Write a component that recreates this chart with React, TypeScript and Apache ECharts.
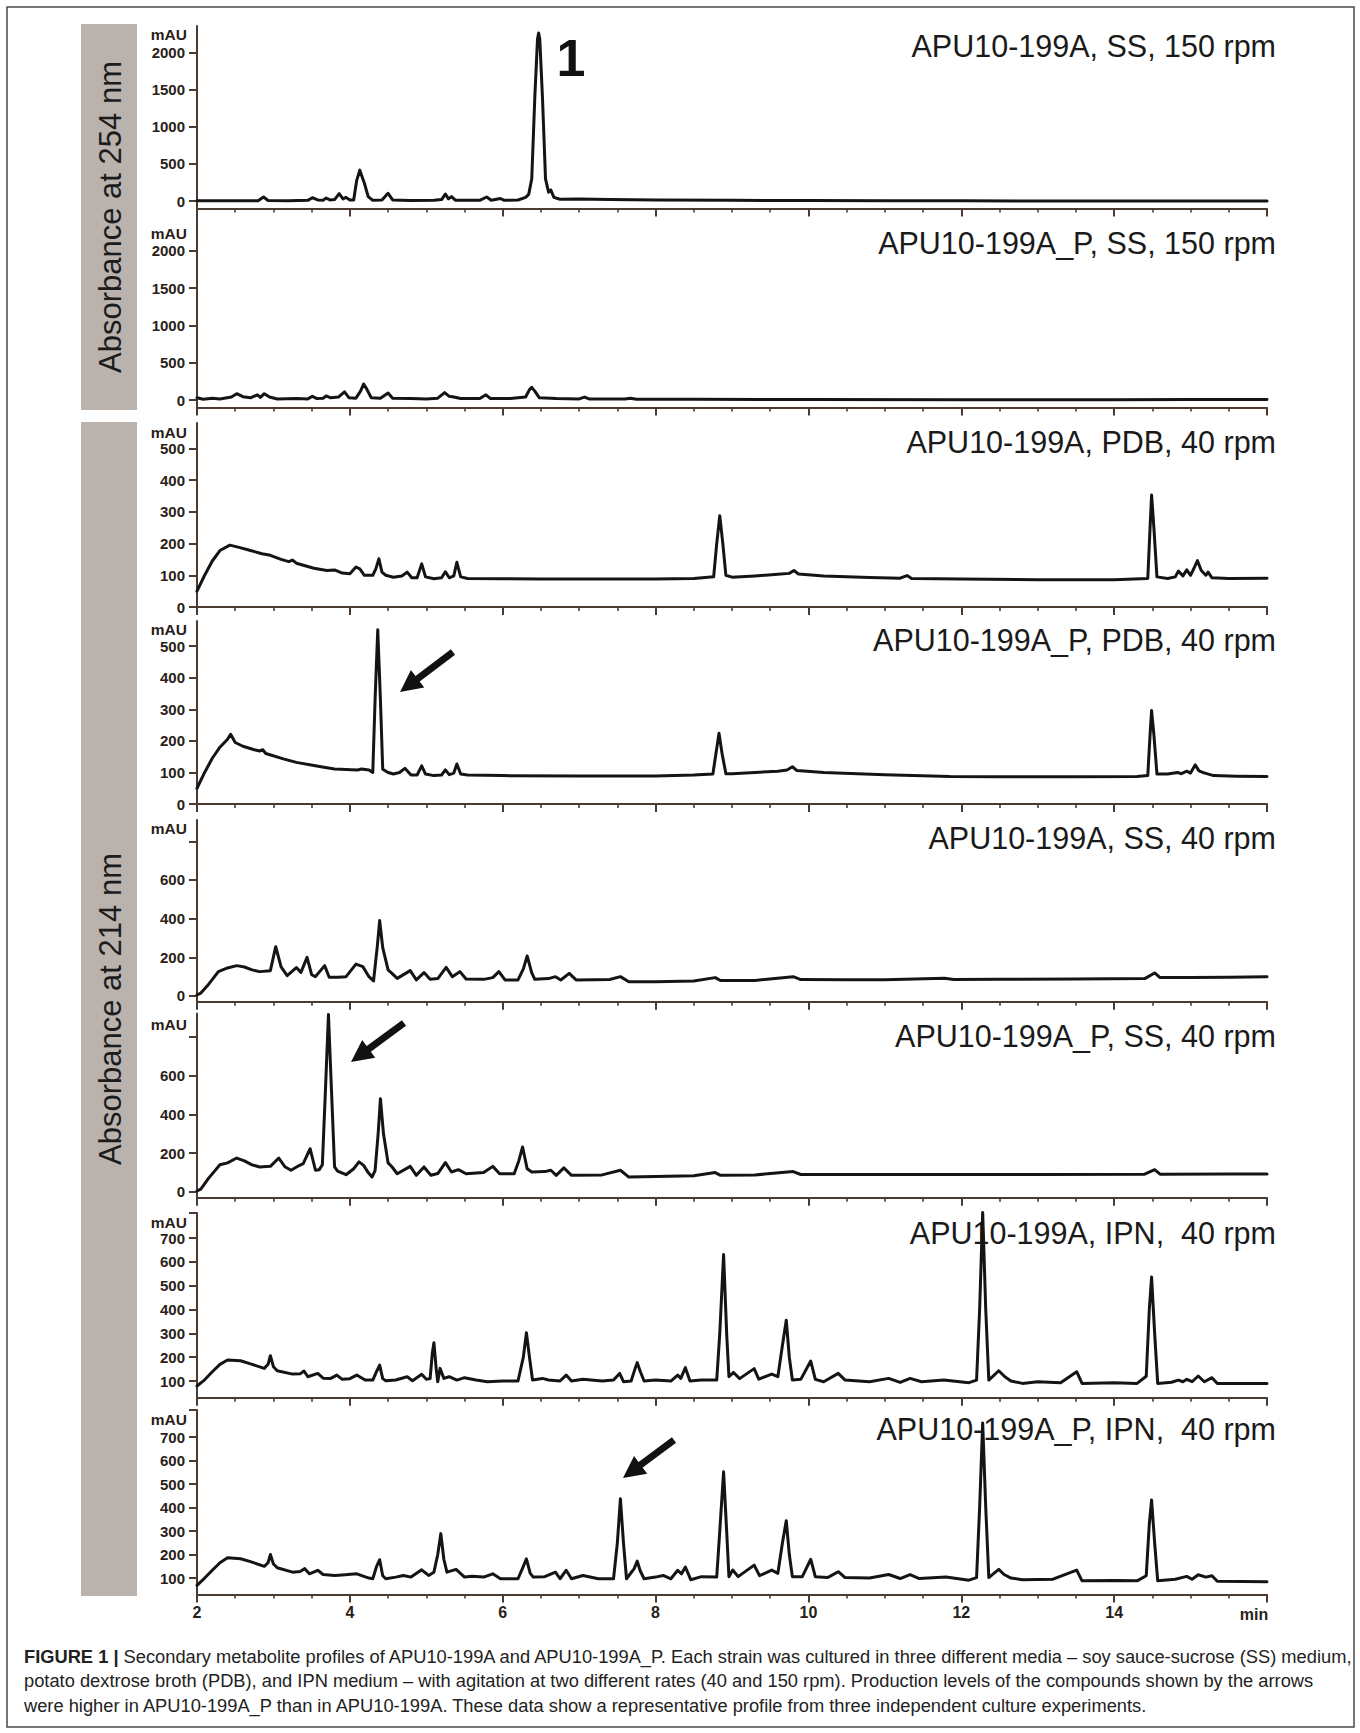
import React, { useEffect, useRef } from 'react';
import * as echarts from 'echarts';

// ---------------- DATA ----------------
const X_MIN = 2;
const X_MAX = 16;
const X_STEP = 2;

// Absorbance at 254 nm
const ss150A: number[][] = [
  [2.0, 5], [2.5, 3], [2.8, 5], [2.87, 55], [2.93, 8], [3.2, 5], [3.45, 10], [3.51, 45], [3.58, 15], [3.65, 12],
  [3.69, 40], [3.74, 15], [3.8, 20], [3.86, 100], [3.91, 30], [3.95, 50], [4.0, 15], [4.05, 15], [4.09, 280],
  [4.13, 417], [4.19, 240], [4.24, 60], [4.3, 10], [4.42, 15], [4.5, 105], [4.56, 15], [4.8, 8], [5.1, 10],
  [5.2, 20], [5.25, 95], [5.29, 30], [5.33, 60], [5.38, 12], [5.7, 10], [5.79, 55], [5.85, 12], [5.97, 35],
  [6.02, 10], [6.2, 15], [6.3, 50], [6.34, 90], [6.38, 300], [6.42, 1400], [6.455, 2180], [6.47, 2265],
  [6.485, 2180], [6.52, 1400], [6.56, 300], [6.6, 120], [6.63, 150], [6.67, 50], [6.75, 25], [7.0, 28],
  [7.4, 20], [8.0, 15], [9.0, 10], [10.0, 8], [11.0, 5], [12.0, 3], [13.0, 2], [14.0, 0], [15.0, 0], [16.0, 0],
];
const ss150P: number[][] = [
  [2.0, 30], [2.08, 10], [2.2, 25], [2.3, 15], [2.45, 40], [2.52, 85], [2.6, 45], [2.7, 30], [2.79, 70],
  [2.83, 35], [2.88, 85], [2.95, 40], [3.05, 15], [3.3, 20], [3.45, 15], [3.51, 50], [3.57, 20], [3.65, 25],
  [3.69, 55], [3.75, 30], [3.85, 40], [3.93, 110], [3.99, 30], [4.08, 25], [4.14, 120], [4.18, 215],
  [4.22, 150], [4.28, 30], [4.4, 25], [4.5, 95], [4.56, 25], [4.8, 20], [5.0, 15], [5.15, 25], [5.24, 100],
  [5.3, 50], [5.36, 40], [5.45, 20], [5.7, 20], [5.78, 70], [5.84, 20], [6.1, 20], [6.3, 40], [6.35, 140],
  [6.38, 170], [6.42, 120], [6.48, 30], [6.7, 20], [7.0, 15], [7.07, 40], [7.13, 15], [7.6, 15], [7.67, 25],
  [7.75, 10], [8.5, 10], [10.0, 8], [12.0, 5], [14.0, 5], [15.0, 6], [16.0, 8],
];

// Absorbance at 214 nm
const pdb40A: number[][] = [
  [2.0, 50], [2.1, 100], [2.2, 145], [2.3, 178], [2.43, 195], [2.55, 188], [2.7, 178], [2.85, 168],
  [2.96, 163], [3.1, 150], [3.2, 143], [3.25, 148], [3.3, 138], [3.53, 122], [3.7, 115], [3.8, 117],
  [3.9, 107], [4.0, 105], [4.08, 126], [4.13, 120], [4.19, 100], [4.3, 100], [4.34, 120], [4.38, 152],
  [4.42, 110], [4.47, 100], [4.57, 94], [4.68, 98], [4.75, 110], [4.81, 92], [4.88, 92], [4.94, 136],
  [4.99, 95], [5.1, 89], [5.2, 92], [5.25, 111], [5.3, 92], [5.36, 98], [5.4, 141], [5.45, 95], [5.54, 90],
  [6.0, 89], [6.5, 88], [7.0, 88], [7.5, 88], [8.0, 88], [8.5, 90], [8.76, 95], [8.8, 200], [8.84, 288],
  [8.88, 200], [8.92, 100], [9.0, 94], [9.3, 98], [9.6, 103], [9.75, 106], [9.81, 115], [9.87, 104],
  [10.2, 98], [10.8, 93], [11.2, 91], [11.29, 99], [11.35, 90], [12.0, 88], [13.0, 86], [14.0, 86],
  [14.44, 90], [14.47, 250], [14.49, 353], [14.52, 250], [14.56, 95], [14.7, 90], [14.8, 95], [14.84, 113],
  [14.9, 98], [14.95, 117], [15.0, 100], [15.05, 125], [15.09, 146], [15.14, 115], [15.2, 100],
  [15.23, 110], [15.28, 92], [15.5, 90], [16.0, 91],
];
const pdb40P: number[][] = [
  [2.0, 50], [2.1, 100], [2.2, 145], [2.3, 180], [2.4, 205], [2.44, 221], [2.5, 195], [2.6, 183],
  [2.75, 172], [2.82, 168], [2.86, 172], [2.9, 160], [3.13, 143], [3.3, 132], [3.53, 122], [3.7, 115],
  [3.8, 111], [4.1, 108], [4.15, 111], [4.25, 108], [4.3, 100], [4.33, 330], [4.365, 552], [4.4, 330],
  [4.43, 110], [4.5, 100], [4.57, 95], [4.65, 100], [4.72, 113], [4.8, 92], [4.88, 92], [4.94, 121],
  [4.99, 95], [5.1, 90], [5.2, 92], [5.25, 108], [5.3, 93], [5.36, 98], [5.4, 127], [5.45, 95], [5.54, 92],
  [6.0, 90], [7.0, 89], [8.0, 89], [8.5, 92], [8.75, 95], [8.79, 160], [8.83, 224], [8.87, 160],
  [8.92, 96], [9.0, 96], [9.3, 100], [9.6, 104], [9.72, 108], [9.79, 118], [9.85, 106], [10.2, 100],
  [11.0, 93], [11.85, 87], [12.5, 86], [13.5, 86], [14.3, 87], [14.44, 90], [14.47, 220], [14.49, 296],
  [14.52, 220], [14.56, 95], [14.7, 95], [14.83, 100], [14.88, 96], [14.95, 104], [15.0, 98], [15.06, 124],
  [15.11, 105], [15.16, 100], [15.2, 97], [15.3, 90], [15.6, 88], [16.0, 87],
];
const ss40A: number[][] = [
  [2.0, 5], [2.05, 15], [2.15, 60], [2.28, 126], [2.4, 145], [2.52, 157], [2.62, 150], [2.72, 135],
  [2.82, 126], [2.96, 131], [3.03, 255], [3.1, 150], [3.18, 105], [3.3, 147], [3.36, 122], [3.44, 200],
  [3.5, 110], [3.55, 100], [3.67, 157], [3.73, 97], [3.85, 97], [3.95, 100], [4.08, 165], [4.17, 152],
  [4.25, 100], [4.31, 78], [4.36, 260], [4.39, 390], [4.43, 250], [4.5, 135], [4.54, 121], [4.62, 91],
  [4.79, 131], [4.87, 83], [4.97, 121], [5.05, 86], [5.15, 90], [5.26, 148], [5.34, 100], [5.44, 126],
  [5.52, 88], [5.75, 86], [5.87, 95], [5.95, 126], [6.03, 83], [6.2, 83], [6.27, 140], [6.32, 207],
  [6.38, 120], [6.42, 86], [6.6, 90], [6.69, 100], [6.76, 83], [6.87, 117], [6.96, 83], [7.4, 85],
  [7.54, 100], [7.65, 74], [8.0, 74], [8.5, 78], [8.78, 95], [8.85, 80], [9.3, 80], [9.8, 100], [9.9, 85],
  [10.5, 84], [11.0, 84], [11.78, 92], [11.9, 85], [12.5, 86], [13.5, 88], [14.4, 90], [14.53, 119],
  [14.6, 95], [15.0, 95], [15.5, 97], [16.0, 100],
];
const ss40P: number[][] = [
  [2.0, 5], [2.05, 15], [2.15, 70], [2.3, 140], [2.4, 150], [2.52, 175], [2.62, 160], [2.72, 140],
  [2.82, 129], [2.96, 132], [3.07, 175], [3.15, 130], [3.23, 112], [3.33, 135], [3.39, 146], [3.48, 223],
  [3.55, 112], [3.6, 115], [3.64, 140], [3.68, 520], [3.72, 915], [3.76, 520], [3.8, 130], [3.84, 108],
  [3.95, 89], [4.05, 120], [4.12, 155], [4.18, 137], [4.24, 100], [4.29, 77], [4.33, 110], [4.37, 300],
  [4.4, 481], [4.44, 300], [4.5, 150], [4.55, 130], [4.62, 94], [4.79, 132], [4.87, 86], [4.97, 129],
  [5.06, 86], [5.15, 95], [5.25, 151], [5.33, 103], [5.42, 115], [5.52, 94], [5.75, 100], [5.87, 132],
  [5.96, 94], [6.15, 94], [6.21, 160], [6.26, 232], [6.32, 120], [6.38, 103], [6.55, 105], [6.63, 112],
  [6.7, 86], [6.8, 124], [6.9, 86], [7.3, 88], [7.54, 112], [7.65, 77], [8.0, 80], [8.5, 84], [8.78, 100],
  [8.85, 86], [9.3, 88], [9.8, 105], [9.9, 90], [11.0, 90], [12.0, 90], [13.0, 90], [14.4, 92], [14.53, 115],
  [14.6, 92], [15.5, 93], [16.0, 93],
];
const ipn40A: number[][] = [
  [2.0, 79], [2.1, 105], [2.2, 139], [2.3, 170], [2.4, 188], [2.57, 185], [2.7, 172], [2.88, 153],
  [2.93, 170], [2.96, 206], [3.0, 160], [3.05, 143], [3.25, 129], [3.35, 130], [3.4, 142], [3.45, 118],
  [3.58, 132], [3.65, 112], [3.75, 111], [3.83, 125], [3.9, 107], [4.0, 110], [4.09, 125], [4.2, 104],
  [4.3, 104], [4.35, 140], [4.39, 167], [4.43, 110], [4.47, 101], [4.6, 104], [4.75, 118], [4.82, 101],
  [4.94, 128], [5.0, 107], [5.05, 110], [5.08, 220], [5.1, 261], [5.13, 150], [5.15, 97], [5.18, 153],
  [5.23, 111], [5.3, 118], [5.4, 104], [5.5, 114], [5.65, 104], [5.8, 97], [6.0, 100], [6.2, 100],
  [6.27, 200], [6.31, 303], [6.35, 200], [6.39, 104], [6.52, 111], [6.6, 104], [6.75, 100], [6.83, 125],
  [6.9, 100], [7.05, 107], [7.3, 100], [7.45, 104], [7.53, 132], [7.58, 97], [7.68, 100], [7.73, 150],
  [7.76, 177], [7.8, 140], [7.85, 100], [8.0, 104], [8.2, 100], [8.29, 125], [8.33, 111], [8.39, 156],
  [8.45, 100], [8.6, 104], [8.8, 104], [8.84, 300], [8.89, 631], [8.93, 300], [8.96, 118], [9.02, 136],
  [9.1, 110], [9.29, 152], [9.35, 108], [9.52, 129], [9.6, 118], [9.66, 250], [9.71, 355], [9.75, 200],
  [9.79, 104], [9.9, 107], [10.03, 184], [10.09, 107], [10.2, 97], [10.39, 132], [10.48, 104], [10.8, 97],
  [11.05, 111], [11.2, 94], [11.33, 111], [11.48, 97], [11.77, 104], [12.1, 93], [12.2, 104], [12.24, 400],
  [12.28, 807], [12.32, 400], [12.36, 104], [12.49, 143], [12.57, 118], [12.65, 100], [12.8, 90],
  [13.0, 97], [13.3, 93], [13.51, 139], [13.58, 90], [14.0, 93], [14.3, 90], [14.42, 120], [14.46, 400],
  [14.49, 536], [14.53, 300], [14.57, 90], [14.75, 95], [14.84, 104], [14.9, 97], [14.95, 107], [15.02, 97],
  [15.1, 121], [15.18, 97], [15.28, 114], [15.35, 90], [16.0, 90],
];
const ipn40P: number[][] = [
  [2.0, 69], [2.1, 100], [2.2, 133], [2.3, 165], [2.4, 186], [2.57, 182], [2.7, 170], [2.88, 150],
  [2.93, 165], [2.96, 200], [3.0, 160], [3.05, 144], [3.25, 125], [3.35, 128], [3.41, 140], [3.47, 118],
  [3.58, 133], [3.65, 115], [3.8, 111], [3.9, 113], [4.09, 118], [4.25, 100], [4.3, 97], [4.35, 150],
  [4.39, 178], [4.43, 110], [4.47, 97], [4.6, 104], [4.7, 111], [4.8, 104], [4.94, 135], [5.03, 111],
  [5.1, 125], [5.15, 200], [5.19, 289], [5.23, 180], [5.27, 125], [5.39, 137], [5.5, 104], [5.6, 108],
  [5.75, 104], [5.87, 118], [5.97, 97], [6.2, 97], [6.27, 150], [6.31, 182], [6.36, 120], [6.4, 104],
  [6.55, 106], [6.69, 125], [6.75, 97], [6.83, 133], [6.9, 97], [7.05, 111], [7.25, 97], [7.45, 97],
  [7.5, 250], [7.54, 437], [7.58, 250], [7.62, 97], [7.72, 140], [7.76, 172], [7.8, 130], [7.85, 97],
  [8.0, 104], [8.1, 111], [8.2, 97], [8.29, 133], [8.34, 118], [8.39, 147], [8.46, 93], [8.6, 106],
  [8.8, 104], [8.84, 300], [8.89, 552], [8.93, 300], [8.96, 106], [9.01, 134], [9.08, 106], [9.29, 155],
  [9.36, 110], [9.52, 134], [9.6, 120], [9.66, 250], [9.71, 344], [9.75, 200], [9.79, 106], [9.92, 106],
  [10.03, 180], [10.09, 106], [10.25, 102], [10.39, 127], [10.48, 102], [10.8, 100], [11.05, 115],
  [11.2, 98], [11.33, 115], [11.45, 98], [11.8, 104], [12.1, 91], [12.2, 102], [12.24, 400], [12.28, 760],
  [12.32, 400], [12.36, 102], [12.49, 137], [12.56, 115], [12.65, 100], [12.8, 93], [13.2, 95],
  [13.51, 134], [13.58, 88], [14.0, 90], [14.3, 88], [14.42, 110], [14.46, 330], [14.49, 432], [14.53, 250],
  [14.57, 88], [14.8, 95], [14.95, 107], [15.02, 95], [15.1, 114], [15.2, 104], [15.28, 110], [15.35, 86],
  [16.0, 84],
];

const PANEL_DATA = [ss150A, ss150P, pdb40A, pdb40P, ss40A, ss40P, ipn40A, ipn40P];

const PANEL_TITLES = [
  'APU10-199A, SS, 150 rpm',
  'APU10-199A_P, SS, 150 rpm',
  'APU10-199A, PDB, 40 rpm',
  'APU10-199A_P, PDB, 40 rpm',
  'APU10-199A, SS, 40 rpm',
  'APU10-199A_P, SS, 40 rpm',
  'APU10-199A, IPN,  40 rpm',
  'APU10-199A_P, IPN,  40 rpm',
];

const Y_MIN = [-100, -100, 0, 0, -30, -30, 30, 30];
const Y_MAX = [2360, 2460, 580, 580, 910, 920, 805, 815];
const Y_LABELS_254 = [0, 500, 1000, 1500, 2000];
const Y_LABELS_PDB = [0, 100, 200, 300, 400, 500];
const Y_LABELS_SS = [0, 200, 400, 600];
const Y_TICKS_SS = [0, 200, 400, 600, 800];
const Y_LABELS_IPN = [100, 200, 300, 400, 500, 600, 700];
const Y_LABEL_VALUES = [Y_LABELS_254, Y_LABELS_254, Y_LABELS_PDB, Y_LABELS_PDB, Y_LABELS_SS, Y_LABELS_SS, Y_LABELS_IPN, Y_LABELS_IPN];
const Y_TICK_VALUES = [Y_LABELS_254, Y_LABELS_254, Y_LABELS_PDB, Y_LABELS_PDB, Y_TICKS_SS, Y_TICKS_SS,
  [...Y_LABELS_IPN, 805], [...Y_LABELS_IPN, 815]];
const Y_UNIT = 'mAU';
const X_END_LABEL = 'min';

const BAND_LABELS = ['Absorbance at 254 nm', 'Absorbance at 214 nm'];
const PEAK_LABEL = '1';
const CAPTION_LINES = [
  '{b|FIGURE 1 |} Secondary metabolite profiles of APU10-199A and APU10-199A_P. Each strain was cultured in three different media – soy sauce-sucrose (SS) medium,',
  'potato dextrose broth (PDB), and IPN medium – with agitation at two different rates (40 and 150 rpm). Production levels of the compounds shown by the arrows',
  'were higher in APU10-199A_P than in APU10-199A. These data show a representative profile from three independent culture experiments.',
];

// ---------------- LAYOUT ----------------
const W = 1360;
const H = 1733;
const GRID_LEFT = 197;
const GRID_WIDTH = 1070;
const GRID_TOP = [26, 216.5, 423, 621, 820, 1013.5, 1213, 1410];
const GRID_BOTTOM = [208.5, 407.5, 607, 804, 1001.8, 1197.8, 1397.7, 1594.5];
const TITLE_RIGHT = 1276;
const TITLE_Y = [46, 243, 442, 640, 838, 1036, 1233, 1429];
const UNIT_RIGHT = 187;
const UNIT_Y = [34, 233, 432, 629, 828, 1024, 1222, 1419];
const MIN_LABEL_X = 1254;
const MIN_LABEL_Y = 1614;
const BANDS = [
  { x: 81, y: 24, w: 56, h: 386 },
  { x: 81, y: 422, w: 56, h: 1174 },
];
const ARROWS = [
  { tail: [453, 652], tip: [400, 692] },
  { tail: [404, 1023], tip: [351, 1062] },
  { tail: [674, 1440], tip: [623, 1478] },
];
const CAPTION_X = 24;
const CAPTION_Y = [1656, 1680, 1705];

const FONT = '"Liberation Sans", Arial, Helvetica, sans-serif';
const AXIS_COLOR = '#4a3a30';
const TICK_TEXT = '#2a1e18';
const TRACE = '#141414';
const BAND_COLOR = '#b9b2ad';

function arrowGraphic(tail: number[], tip: number[]) {
  const dx = tip[0] - tail[0];
  const dy = tip[1] - tail[1];
  const len = Math.sqrt(dx * dx + dy * dy);
  const ux = dx / len;
  const uy = dy / len;
  const px = -uy;
  const py = ux;
  const headLen = 22;
  const halfW = 11;
  const bx = tip[0] - ux * headLen;
  const by = tip[1] - uy * headLen;
  return {
    type: 'group',
    children: [
      {
        type: 'line',
        shape: { x1: tail[0], y1: tail[1], x2: bx + ux * 2, y2: by + uy * 2 },
        style: { stroke: '#111', lineWidth: 7 },
      },
      {
        type: 'polygon',
        shape: {
          points: [
            [tip[0], tip[1]],
            [bx + px * halfW, by + py * halfW],
            [bx - px * halfW, by - py * halfW],
          ],
        },
        style: { fill: '#111' },
      },
    ],
  };
}

function buildOption() {
  const n = PANEL_DATA.length;
  const grids = [];
  const xAxes = [];
  const yAxes = [];
  const series = [];
  for (let i = 0; i < n; i++) {
    grids.push({
      left: GRID_LEFT,
      width: GRID_WIDTH,
      top: GRID_TOP[i],
      height: GRID_BOTTOM[i] - GRID_TOP[i],
      containLabel: false,
      outerBoundsMode: 'none',
    });
    const isLast = i === n - 1;
    xAxes.push({
      type: 'value',
      gridIndex: i,
      min: X_MIN,
      max: X_MAX,
      interval: X_STEP,
      axisLine: { show: true, onZero: false, lineStyle: { color: AXIS_COLOR, width: 2 } },
      axisTick: { show: true, length: 8, lineStyle: { color: AXIS_COLOR, width: 2 } },
      minorTick: { show: true, splitNumber: 4, length: 4, lineStyle: { color: AXIS_COLOR, width: 1.6 } },
      axisLabel: {
        show: isLast,
        margin: 10,
        color: TICK_TEXT,
        fontFamily: FONT,
        fontWeight: 'bold',
        fontSize: 16,
        formatter: (v: number) => (v === X_MAX ? '' : String(v)),
      },
      splitLine: { show: false },
      minorSplitLine: { show: false },
    });
    yAxes.push({
      type: 'value',
      gridIndex: i,
      min: Y_MIN[i],
      max: Y_MAX[i],
      axisLine: { show: true, lineStyle: { color: AXIS_COLOR, width: 2 } },
      axisTick: { show: true, length: 8, customValues: Y_TICK_VALUES[i], lineStyle: { color: AXIS_COLOR, width: 2 } },
      axisLabel: {
        show: true,
        customValues: Y_LABEL_VALUES[i],
        margin: 12,
        color: TICK_TEXT,
        fontFamily: FONT,
        fontWeight: 'bold',
        fontSize: 15,
        formatter: (v: number) => String(v),
      },
      splitLine: { show: false },
    });
    series.push({
      type: 'line',
      xAxisIndex: i,
      yAxisIndex: i,
      data: PANEL_DATA[i],
      showSymbol: false,
      symbol: 'none',
      clip: false,
      silent: true,
      z: 3,
      lineStyle: { color: TRACE, width: 3, join: 'round', cap: 'round' },
    });
  }

  const graphics: any[] = [];
  graphics.push({
    type: 'rect',
    shape: { x: 7, y: 7, width: 1347, height: 1720 },
    style: { fill: 'none', stroke: '#4a4a4a', lineWidth: 1.5 },
    z: -10,
  });
  BANDS.forEach((b, k) => {
    graphics.push({
      type: 'rect',
      shape: { x: b.x, y: b.y, width: b.w, height: b.h },
      style: { fill: BAND_COLOR },
      z: -5,
    });
    graphics.push({
      type: 'text',
      x: b.x + b.w / 2 + 1,
      y: b.y + b.h / 2,
      rotation: Math.PI / 2,
      style: {
        text: BAND_LABELS[k],
        fill: '#1c1c1c',
        font: `31px ${FONT}`,
        align: 'center',
        verticalAlign: 'middle',
      },
      z: -4,
    });
  });
  PANEL_TITLES.forEach((t, i) => {
    graphics.push({
      type: 'text',
      x: TITLE_RIGHT,
      y: TITLE_Y[i],
      style: { text: t, fill: '#1a1a1a', font: `30.5px ${FONT}`, align: 'right', verticalAlign: 'middle' },
      z: 1,
    });
    graphics.push({
      type: 'text',
      x: UNIT_RIGHT,
      y: UNIT_Y[i],
      style: { text: Y_UNIT, fill: TICK_TEXT, font: `bold 15.5px ${FONT}`, align: 'right', verticalAlign: 'middle' },
      z: 1,
    });
  });
  graphics.push({
    type: 'text',
    x: MIN_LABEL_X,
    y: MIN_LABEL_Y,
    style: { text: X_END_LABEL, fill: TICK_TEXT, font: `bold 16px ${FONT}`, align: 'center', verticalAlign: 'middle' },
  });
  graphics.push({
    type: 'text',
    x: 571,
    y: 58,
    style: { text: PEAK_LABEL, fill: '#111', font: `bold 52px ${FONT}`, align: 'center', verticalAlign: 'middle' },
  });
  ARROWS.forEach((a) => graphics.push(arrowGraphic(a.tail, a.tip)));
  CAPTION_LINES.forEach((line, k) => {
    graphics.push({
      type: 'text',
      x: CAPTION_X,
      y: CAPTION_Y[k],
      style: {
        text: line,
        fill: '#222',
        font: `18.3px ${FONT}`,
        align: 'left',
        verticalAlign: 'middle',
        rich: { b: { fontWeight: 'bold', fontSize: 18.3, fontFamily: FONT, fill: '#222' } },
      },
    });
  });

  return {
    animation: false,
    backgroundColor: '#ffffff',
    grid: grids,
    xAxis: xAxes,
    yAxis: yAxes,
    series,
    graphic: graphics,
  };
}

export default function App() {
  const ref = useRef<HTMLDivElement>(null);
  useEffect(() => {
    if (!ref.current) return;
    const chart = echarts.init(ref.current, null, { renderer: 'svg', width: W, height: H });
    chart.setOption(buildOption() as any);
    return () => chart.dispose();
  }, []);
  return (
    <div
      ref={ref}
      style={{ position: 'absolute', left: 0, top: 0, width: W, height: H, background: '#fff' }}
    />
  );
}
